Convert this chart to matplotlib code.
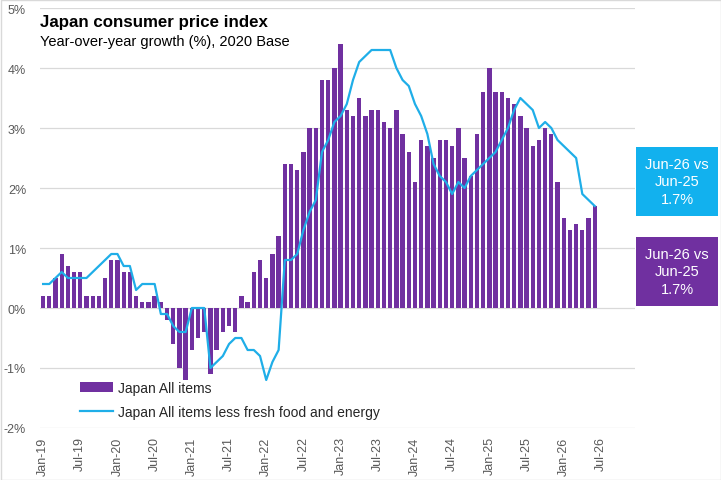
import pandas as pd
import matplotlib
matplotlib.use('Agg')
import matplotlib.pyplot as plt
from matplotlib.patches import Rectangle

# monthly categories Jan-19 .. Dec-26 (data only up to Jun-26)
months = pd.date_range('2019-01-01', periods=96, freq='MS').strftime('%b-%y').tolist()

all_items = [
    0.2, 0.2, 0.5, 0.9, 0.7, 0.6, 0.6, 0.2, 0.2, 0.2, 0.5, 0.8,        # 2019
    0.8, 0.6, 0.6, 0.2, 0.1, 0.1, 0.2, 0.1, -0.2, -0.6, -1.0, -1.2,    # 2020
    -0.7, -0.5, -0.4, -1.1, -0.7, -0.4, -0.3, -0.4, 0.2, 0.1, 0.6, 0.8,  # 2021
    0.5, 0.9, 1.2, 2.4, 2.4, 2.3, 2.6, 3.0, 3.0, 3.8, 3.8, 4.0,        # 2022
    4.4, 3.3, 3.2, 3.5, 3.2, 3.3, 3.3, 3.1, 3.0, 3.3, 2.9, 2.6,        # 2023
    2.1, 2.8, 2.7, 2.5, 2.8, 2.8, 2.7, 3.0, 2.5, 2.2, 2.9, 3.6,        # 2024
    4.0, 3.6, 3.6, 3.5, 3.4, 3.2, 3.0, 2.7, 2.8, 3.0, 2.9, 2.1,        # 2025
    1.5, 1.3, 1.4, 1.3, 1.5, 1.7,                                      # 2026
]

core_core = [
    0.4, 0.4, 0.5, 0.6, 0.5, 0.5, 0.5, 0.5, 0.6, 0.7, 0.8, 0.9,        # 2019
    0.9, 0.7, 0.7, 0.3, 0.4, 0.4, 0.4, -0.1, -0.1, -0.3, -0.4, -0.4,   # 2020
    0.0, 0.0, 0.0, -1.0, -0.9, -0.8, -0.6, -0.5, -0.5, -0.7, -0.7, -0.8,  # 2021
    -1.2, -0.9, -0.7, 0.8, 0.8, 0.9, 1.3, 1.6, 1.8, 2.6, 2.8, 3.1,     # 2022
    3.2, 3.4, 3.8, 4.1, 4.2, 4.3, 4.3, 4.3, 4.3, 4.0, 3.8, 3.7,        # 2023
    3.4, 3.2, 2.9, 2.4, 2.2, 2.1, 1.9, 2.1, 2.0, 2.2, 2.3, 2.4,        # 2024
    2.5, 2.6, 2.8, 3.0, 3.3, 3.5, 3.4, 3.3, 3.0, 3.1, 3.0, 2.8,        # 2025
    2.7, 2.6, 2.5, 1.9, 1.8, 1.7,                                      # 2026
]

yticks = [-2, -1, 0, 1, 2, 3, 4, 5]
ytick_labels = ['-2%', '-1%', '0%', '1%', '2%', '3%', '4%', '5%']

purple = '#7030A0'
cyan = '#1FAEE8'
box_cyan = '#12B1EE'
grey_text = '#595959'

plt.rcParams['font.family'] = ['Liberation Sans', 'DejaVu Sans']

W, H = 721, 481
fig = plt.figure(figsize=(W / 100, H / 100), dpi=100)
ax = fig.add_axes([40 / W, (H - 429) / H, 595 / W, 420 / H])

x = list(range(len(months)))
n = len(all_items)
bars = ax.bar(x[:n], all_items, width=0.7, color=purple, zorder=2, label='Japan All items')
line, = ax.plot(x[:len(core_core)], core_core, color=cyan, lw=1.6, zorder=3,
                label='Japan All items less fresh food and energy')

ax.set_xlim(-0.5, len(months) - 0.5)
ax.set_ylim(-2, 5)
ax.set_yticks(yticks)
ax.set_yticklabels(ytick_labels)
ax.set_xticks(x[::6])
ax.set_xticklabels(months[::6], rotation=90)
ax.tick_params(axis='both', length=0, colors=grey_text, labelsize=9)
ax.tick_params(axis='y', pad=10)
ax.tick_params(axis='x', pad=6)
ax.yaxis.grid(True, color='#D9D9D9', lw=0.9, zorder=0)
ax.set_axisbelow(True)
for s in ax.spines.values():
    s.set_visible(False)

leg = ax.legend(handles=[bars, line], loc='upper left', bbox_to_anchor=(80 / W, 1 - 382 / H),
                bbox_transform=fig.transFigure, frameon=False, fontsize=10,
                handlelength=2.4, handletextpad=0.3, labelspacing=0.7,
                borderaxespad=0, borderpad=0)
for t in leg.get_texts():
    t.set_color('#262626')

fig.text(40 / W, 1 - 22 / H, 'Japan consumer price index', fontsize=12.2,
         fontweight='bold', va='center', ha='left', color='#000000')
fig.text(40 / W, 1 - 42 / H, 'Year-over-year growth (%), 2020 Base', fontsize=10.5,
         va='center', ha='left', color='#000000')

# callout boxes
last = months[n - 1]
prev = months[n - 13]
for (y0, y1), col, val in [((148, 217), box_cyan, core_core[-1]),
                           ((238, 307), purple, all_items[-1])]:
    fig.add_artist(Rectangle((636 / W, 1 - y1 / H), 82 / W, (y1 - y0) / H,
                             transform=fig.transFigure, color=col, lw=0))
    yc = (y0 + y1) / 2
    fig.text(677 / W, 1 - yc / H, f'{last} vs\n{prev}\n{val:.1f}%', color='white',
             fontsize=10.5, ha='center', va='center', linespacing=1.35)

# chart border
fig.add_artist(Rectangle((0.5 / W, 0.5 / H), 1 - 1 / W, 1 - 1 / H, transform=fig.transFigure,
                         fill=False, edgecolor='#D9D9D9', lw=1))

fig.savefig('out.png', dpi=100)
